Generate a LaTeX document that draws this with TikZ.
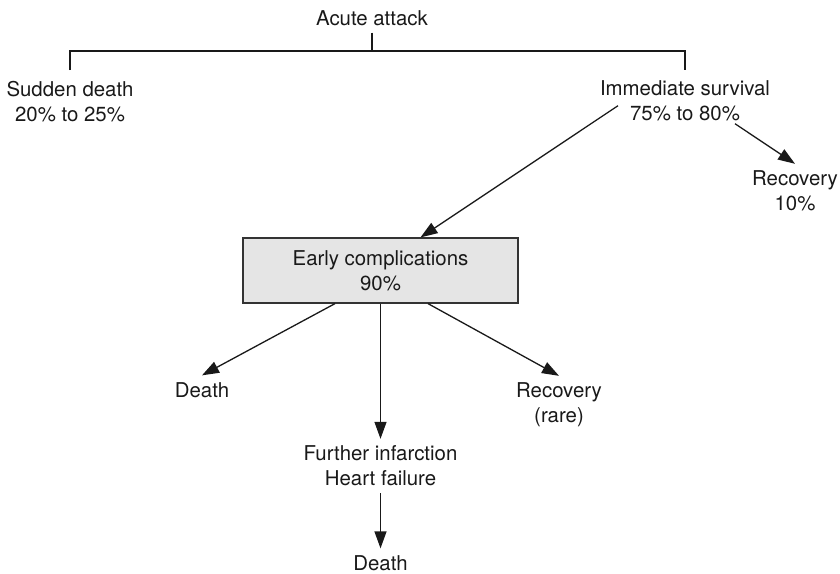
\documentclass[tikz,border=0pt]{standalone}
\usepackage{fontspec}
\setmainfont{TeX Gyre Heros}
\usetikzlibrary{arrows.meta}
\begin{document}
\begin{tikzpicture}[x=0.5pt, y=-0.5pt,
    every node/.style={align=center, font=\fontsize{10.2}{12.5}\selectfont, text=black!90},
    box/.style={draw=black!80, fill=black!10, line width=0.6pt,
      minimum width=137.5pt, minimum height=32.5pt},
    link/.style={line width=0.65pt, draw=black!90},
    arr/.style={link, -{Triangle[length=8.5pt,width=6pt]}}]
  \useasboundingbox (0,0) rectangle (840,573);
  \node (A)  at (372,18)    {Acute attack};
  \node (SD) at (70,102)    {Sudden death\\20\% to 25\%};
  \node (IS) at (685,101)   {Immediate survival\\75\% to 80\%};
  \node (R1) at (795,191)   {Recovery\\10\%};
  \node[box] (EC) at (380.5,270.5) {Early complications\\90\%};
  \node (D1) at (202,390)   {Death};
  \node (R2) at (559,405)   {Recovery\\(rare)};
  \node (FI) at (380.5,466) {Further infarction\\Heart failure};
  \node (D2) at (380.5,563) {Death};
  % bracket below the first node
  \coordinate (bar)  at (372,51);
  \coordinate (tick) at (0,70);
  \draw[link] (A.south) -- (bar);
  \draw[link] (SD |- tick) |- (bar) -| (IS |- tick);
  % arrows
  \draw[arr] ([shift={(-33.5pt,11.25pt)}]IS.south) -- ([xshift=20pt]EC.north);
  \draw[arr] ([shift={(25pt,2.25pt)}]IS.south) -- (R1.north);
  \draw[arr] ([xshift=-22.75pt]EC.south) -- (D1.north);
  \draw[arr] (EC.south) -- (FI.north);
  \draw[arr] ([xshift=23.75pt]EC.south) -- (R2.north);
  \draw[arr] (FI.south) -- (D2.north);
\end{tikzpicture}
\end{document}
